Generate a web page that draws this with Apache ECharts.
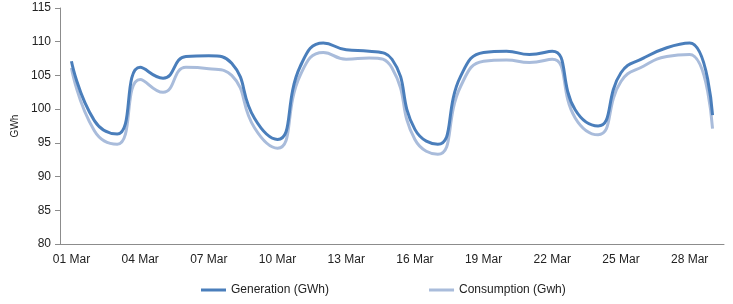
<!DOCTYPE html>
<html>
<head>
<meta charset="utf-8">
<script src="https://cdn.jsdelivr.net/npm/echarts@6/dist/echarts.min.js"></script>
<style>
  html, body { margin: 0; padding: 0; background: #fff; }
  #chart { width: 733px; height: 304px; }
</style>
</head>
<body>
<div id="chart"></div>
<script>
// dates, 01 Mar .. 29 Mar
var days = [];
for (var d = 1; d <= 29; d++) {
  days.push((d < 10 ? '0' + d : '' + d) + ' Mar');
}

var generation = [107.1, 98.3, 96.3, 106.2, 104.6, 107.8, 107.9, 106.8, 98.6, 95.5,
                  106.4, 109.8, 108.8, 108.6, 107.4, 97.0, 94.8, 104.9, 108.4, 108.6,
                  108.1, 108.6, 99.9, 97.5, 105.4, 107.6, 109.1, 109.8, 99.1];
var consumption = [106.1, 96.8, 94.8, 104.4, 102.5, 106.2, 106.0, 105.0, 97.2, 94.2,
                   105.1, 108.4, 107.4, 107.6, 106.1, 95.5, 93.3, 103.4, 107.1, 107.3,
                   106.9, 107.4, 98.7, 96.2, 104.1, 106.4, 107.8, 108.1, 97.1];

var myChart = echarts.init(document.getElementById('chart'));

var option = {
  animation: false,
  backgroundColor: '#ffffff',
  textStyle: { fontFamily: 'Liberation Sans, Arial, sans-serif' },
  grid: { left: 60, right: 9, top: 8, bottom: 60 },
  legend: {
    top: 279,
    left: 196,
    itemGap: 100,
    itemWidth: 25,
    itemHeight: 3,
    icon: 'rect',
    textStyle: { fontSize: 12, color: '#222' },
    data: ['Generation (GWh)', 'Consumption (Gwh)']
  },
  xAxis: {
    type: 'category',
    data: days,
    boundaryGap: true,
    axisLine: { lineStyle: { color: '#8c8c8c', width: 1 } },
    axisTick: { interval: 2, length: 5, lineStyle: { color: '#8c8c8c' } },
    axisLabel: { interval: 2, fontSize: 12, color: '#222', margin: 10 }
  },
  yAxis: {
    type: 'value',
    min: 80,
    max: 115,
    interval: 5,
    name: 'GWh',
    nameLocation: 'middle',
    nameGap: 38,
    nameRotate: 90,
    nameTextStyle: { fontSize: 10, color: '#222' },
    splitLine: { show: false },
    axisLine: { show: true, lineStyle: { color: '#8c8c8c', width: 1 } },
    axisTick: { show: true, length: 5, inside: false, lineStyle: { color: '#8c8c8c' } },
    axisLabel: { fontSize: 12, color: '#222', margin: 9 }
  },
  series: [
    {
      name: 'Generation (GWh)',
      type: 'line',
      data: generation,
      smooth: 0.5,
      symbol: 'none',
      z: 3,
      lineStyle: { color: '#4a7ebb', width: 3 },
      itemStyle: { color: '#4a7ebb' }
    },
    {
      name: 'Consumption (Gwh)',
      type: 'line',
      data: consumption,
      smooth: 0.5,
      symbol: 'none',
      z: 2,
      lineStyle: { color: '#a9bcdb', width: 3 },
      itemStyle: { color: '#a9bcdb' }
    }
  ]
};

myChart.setOption(option);
</script>
</body>
</html>
